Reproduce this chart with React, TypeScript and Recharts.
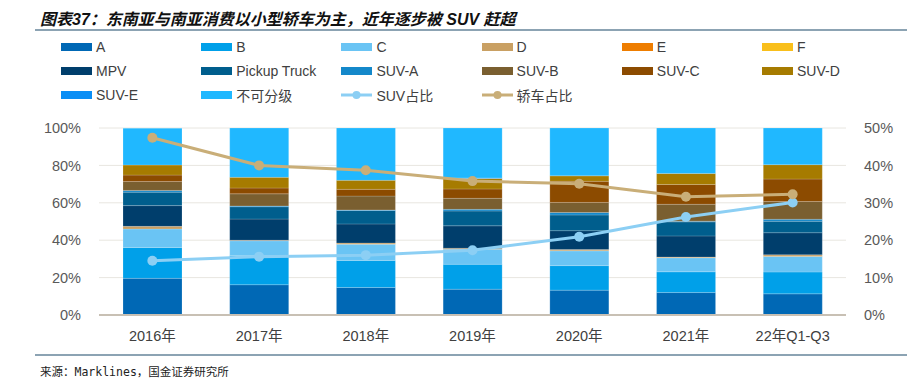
import { ComposedChart, Bar, Line, XAxis, YAxis, CartesianGrid } from "recharts"

const categories = ["2016年", "2017年", "2018年", "2019年", "2020年", "2021年", "22年Q1-Q3"]

const segA = [19.6, 16.2, 14.7, 13.8, 13.3, 12.0, 11.3]
const segB = [16.5, 15.6, 14.5, 13.3, 13.1, 11.1, 11.7]
const segC = [9.9, 7.9, 8.6, 8.1, 7.9, 7.5, 8.3]
const segD = [1.4, 0.3, 0.7, 0.5, 0.7, 0.4, 0.9]
const segE = [0, 0, 0, 0, 0, 0, 0]
const segF = [0, 0, 0, 0, 0, 0, 0]
const segMPV = [11.1, 11.3, 10.2, 12.0, 10.1, 11.3, 11.8]
const segPickup = [7.2, 6.6, 7.2, 7.9, 8.4, 7.5, 6.1]
const segSUVA = [0.9, 0.4, 0.3, 0.9, 1.3, 0.4, 1.1]
const segSUVB = [4.8, 6.5, 7.4, 5.9, 5.4, 9.0, 9.5]
const segSUVC = [3.4, 3.1, 3.6, 5.0, 11.3, 10.6, 12.0]
const segSUVD = [5.4, 5.7, 4.8, 5.6, 2.9, 5.9, 7.7]
const segSUVE = [0, 0, 0, 0.3, 0, 0, 0]
const segOther = [19.7, 26.8, 28.0, 26.9, 25.7, 24.4, 19.6]

const suvShare = [14.5, 15.6, 16.0, 17.3, 20.9, 26.2, 30.1]
const sedanShare = [47.4, 40.0, 38.7, 35.8, 35.1, 31.6, 32.3]

const leftTicks = [0, 20, 40, 60, 80, 100]
const rightTicks = [0, 10, 20, 30, 40, 50]

const barSeries = [
  { key: "A", values: segA, color: "#0068B5" },
  { key: "B", values: segB, color: "#00A0E9" },
  { key: "C", values: segC, color: "#6AC4F4" },
  { key: "D", values: segD, color: "#C9A063" },
  { key: "E", values: segE, color: "#EE7D00" },
  { key: "F", values: segF, color: "#F9BF1B" },
  { key: "MPV", values: segMPV, color: "#003E6C" },
  { key: "Pickup Truck", values: segPickup, color: "#005E8D" },
  { key: "SUV-A", values: segSUVA, color: "#1488CA" },
  { key: "SUV-B", values: segSUVB, color: "#7A5F30" },
  { key: "SUV-C", values: segSUVC, color: "#8C4B00" },
  { key: "SUV-D", values: segSUVD, color: "#A67B00" },
  { key: "SUV-E", values: segSUVE, color: "#0A8EF5" },
  { key: "不可分级", values: segOther, color: "#20B8FF" },
]

const lineSeries = [
  { key: "SUV占比", values: suvShare, color: "#8CCFF4" },
  { key: "轿车占比", values: sedanShare, color: "#C9AE78" },
]

const data = categories.map((name, i) => {
  const row: Record<string, string | number> = { name }
  barSeries.forEach((s) => (row[s.key] = s.values[i]))
  lineSeries.forEach((s) => (row[s.key] = s.values[i]))
  return row
})

const font = '"Liberation Sans", Arial, "Noto Sans CJK SC", sans-serif'
const legendItems = [...barSeries.map((s) => ({ ...s, kind: "bar" })), ...lineSeries.map((s) => ({ ...s, kind: "line" }))]

export default function App() {
  return (
    <div style={{ position: "absolute", left: 0, top: 0, width: 907, height: 380, background: "#fff", fontFamily: font }}>
      <div
        style={{
          position: "absolute",
          left: 40,
          top: 6,
          fontSize: 16,
          fontWeight: "bold",
          fontStyle: "italic",
          color: "#111",
          whiteSpace: "nowrap",
        }}
      >
        图表37：东南亚与南亚消费以小型轿车为主，近年逐步被 SUV 赶超
      </div>
      <div style={{ position: "absolute", left: 35, right: 0, top: 29, height: 2, background: "#8CA3B3" }} />

      {legendItems.map((item, i) => {
        const col = i % 6
        const row = Math.floor(i / 6)
        return (
          <div
            key={item.key}
            style={{
              position: "absolute",
              left: 61 + col * 140.2,
              top: 47 + row * 24 - 8,
              height: 16,
              display: "flex",
              alignItems: "center",
              fontSize: 14,
              color: "#404040",
              whiteSpace: "nowrap",
            }}
          >
            {item.kind === "bar" ? (
              <div style={{ width: 31, height: 8, background: item.color, marginRight: 4 }} />
            ) : (
              <svg width={31} height={10} style={{ marginRight: 4 }}>
                <line x1={0} y1={5} x2={31} y2={5} stroke={item.color} strokeWidth={3} />
                <circle cx={15.5} cy={5} r={4} fill={item.color} />
              </svg>
            )}
            {item.key}
          </div>
        )
      })}

      <div style={{ position: "absolute", left: 0, top: 0 }}>
        <ComposedChart
          width={907}
          height={345}
          data={data}
          margin={{ top: 128, right: 0, bottom: 0, left: 0 }}
          barSize={59}
        >
          <CartesianGrid yAxisId="left" vertical={false} stroke="#E8E6E0" strokeWidth={1} />
          <XAxis
            dataKey="name"
            height={30}
            axisLine={{ stroke: "#C8C0B4", strokeWidth: 2 }}
            tickLine={false}
            tick={{ fill: "#404040", fontSize: 14.5, fontFamily: font }}
            tickMargin={10}
          />
          <YAxis
            yAxisId="left"
            width={99}
            domain={[0, 100]}
            allowDataOverflow
            ticks={leftTicks}
            tickFormatter={(v: number) => `${v}%`}
            axisLine={false}
            tickLine={false}
            tick={{ fill: "#595959", fontSize: 14.5, fontFamily: font }}
            tickMargin={12}
          />
          <YAxis
            yAxisId="right"
            orientation="right"
            width={61}
            domain={[0, 50]}
            allowDataOverflow
            ticks={rightTicks}
            tickFormatter={(v: number) => `${v}%`}
            axisLine={false}
            tickLine={false}
            tick={{ fill: "#595959", fontSize: 14.5, fontFamily: font }}
            tickMargin={12}
          />
          {barSeries.map((s) => (
            <Bar
              key={s.key}
              yAxisId="left"
              dataKey={s.key}
              stackId="share"
              fill={s.color}
              stroke="rgba(255,255,255,0.35)"
              strokeWidth={0.5}
              isAnimationActive={false}
            />
          ))}
          {lineSeries.map((s) => (
            <Line
              key={s.key}
              yAxisId="right"
              dataKey={s.key}
              stroke={s.color}
              strokeWidth={3}
              dot={{ r: 5, fill: s.color, stroke: s.color, strokeWidth: 0 }}
              isAnimationActive={false}
            />
          ))}
        </ComposedChart>
      </div>

      <div style={{ position: "absolute", left: 35, right: 0, top: 354, height: 2, background: "#8CA3B3" }} />
      <div
        style={{
          position: "absolute",
          left: 40,
          top: 363,
          fontSize: 11.5,
          color: "#222",
          fontFamily: '"DejaVu Sans Mono", "Noto Sans CJK SC", monospace',
          whiteSpace: "nowrap",
        }}
      >
        来源：Marklines，国金证券研究所
      </div>
    </div>
  )
}
